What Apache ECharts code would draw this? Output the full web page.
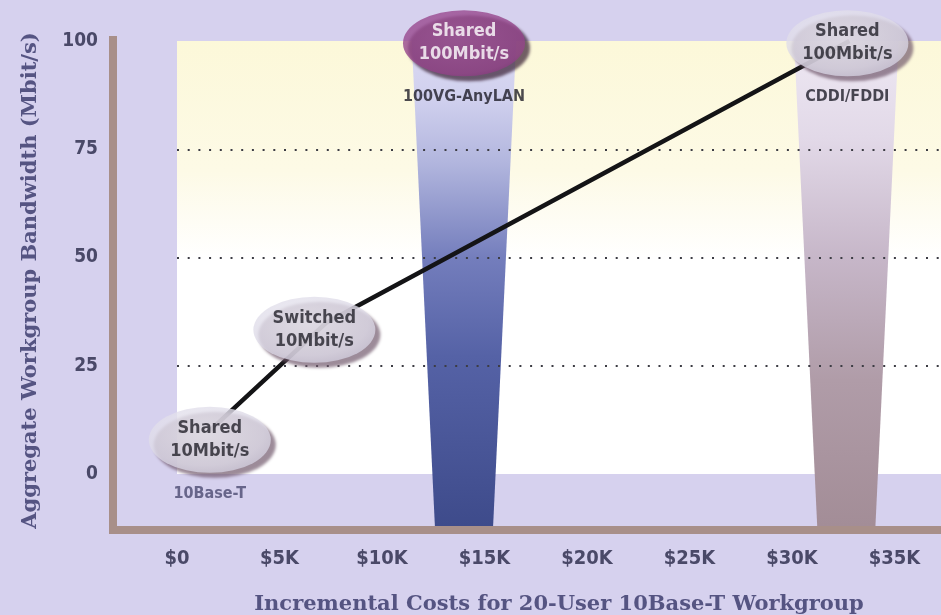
<!DOCTYPE html>
<html>
<head>
<meta charset="utf-8">
<script src="https://cdn.jsdelivr.net/npm/echarts@6/dist/echarts.min.js"></script>
<style>
  html, body { margin: 0; padding: 0; background: #d6d1ee; }
  #chart { width: 941px; height: 615px; }
</style>
</head>
<body>
<div id="chart"></div>
<script>
// ---- data ----
const nodeLabels = ['Shared\n10Mbit/s', 'Switched\n10Mbit/s', 'Shared\n100Mbit/s', 'Shared\n100Mbit/s'];
const techNames = ['10Base-T', '', '100VG-AnyLAN', 'CDDI/FDDI'];
const nodeCostK = [1.6, 6.7, 14.0, 32.7];
const nodeBandwidth = [7.9, 33.3, 99.5, 99.5];
const pathCostK = [1.6, 7.3, 32.8];
const pathBandwidth = [10, 35, 100];
const beamCostK = [14.0, 32.65];
const beamTop = [100, 100];
const beamBottom = [-12, -12];
const xTickValues = [0, 5, 10, 15, 20, 25, 30, 35];
const xTickLabels = ['$0', '$5K', '$10K', '$15K', '$20K', '$25K', '$30K', '$35K'];
const yTickValues = [0, 25, 50, 75, 100];
const yTickLabels = ['0', '25', '50', '75', '100'];
const xTitle = 'Incremental Costs for 20-User 10Base-T Workgroup';
const yTitle = 'Aggregate Workgroup Bandwidth (Mbit/s)';

// ---- styles ----
const condensed = "'Liberation Sans Narrow', 'DejaVu Sans Condensed', 'Roboto', sans-serif";
const serif = "'DejaVu Serif', 'Liberation Serif', serif";
const BEAM_TOP_HALF = 2.55;
const BEAM_BOTTOM_HALF = 1.42;
const beamFills = [
  new echarts.graphic.LinearGradient(0, 0, 0, 1, [
    { offset: 0, color: '#dcdaf2' },
    { offset: 0.12, color: '#d0d0ee' },
    { offset: 0.25, color: '#b2b6de' },
    { offset: 0.45, color: '#737dbc' },
    { offset: 0.65, color: '#5562a6' },
    { offset: 1, color: '#3e4b8b' }
  ]),
  new echarts.graphic.LinearGradient(0, 0, 0, 1, [
    { offset: 0, color: '#eee8f3' },
    { offset: 0.2, color: '#e2d9e8' },
    { offset: 0.45, color: '#c6b6c8' },
    { offset: 0.7, color: '#b09ca8' },
    { offset: 1, color: '#a38d97' }
  ])
];
const greyNode = {
  color: new echarts.graphic.RadialGradient(0.45, 0.4, 0.7, [
    { offset: 0, color: '#efeef5' },
    { offset: 0.7, color: '#dedbe8' },
    { offset: 1, color: '#c9c4d6' }
  ]),
  shadowColor: 'rgba(110,85,105,0.85)', shadowBlur: 3, shadowOffsetX: 5, shadowOffsetY: 5
};
const purpleNode = {
  color: new echarts.graphic.RadialGradient(0.45, 0.4, 0.7, [
    { offset: 0, color: '#a3549a' },
    { offset: 0.8, color: '#94448a' },
    { offset: 1, color: '#7f3577' }
  ]),
  shadowColor: 'rgba(60,35,55,0.9)', shadowBlur: 3, shadowOffsetX: 5, shadowOffsetY: 5
};

const nodeData = nodeCostK.map((c, i) => ({
  value: [c, nodeBandwidth[i]],
  name: nodeLabels[i],
  itemStyle: i === 2 ? purpleNode : greyNode,
  label: { color: i === 2 ? '#ffffff' : '#222129' }
}));
const techData = nodeCostK.map((c, i) => ({
  value: [c, nodeBandwidth[i]],
  name: techNames[i],
  label: { color: i === 0 ? '#4b4a70' : '#1e1d28' }
}));

const chart = echarts.init(document.getElementById('chart'), null, { renderer: 'canvas' });
chart.setOption({
  backgroundColor: '#d6d1ee',
  animation: false,
  grid: [
    {
      left: 177, right: 0, top: 41, bottom: 141,
      outerBoundsMode: 'none', containLabel: false,
      show: true, borderWidth: 0,
      backgroundColor: new echarts.graphic.LinearGradient(0, 0, 0, 1, [
        { offset: 0, color: '#fcf8d9' },
        { offset: 0.3, color: '#fdfae6' },
        { offset: 0.5, color: '#ffffff' },
        { offset: 1, color: '#ffffff' }
      ])
    },
    { left: 113, right: 0, top: 40, bottom: 85, show: false, outerBoundsMode: 'none', containLabel: false }
  ],
  xAxis: [
    {
      type: 'value', gridIndex: 0, min: 0, max: 764 / 20.5, interval: 5,
      axisLine: { show: false }, axisTick: { show: false }, splitLine: { show: false },
      axisLabel: {
        margin: 75, fontFamily: condensed, fontWeight: 'bold', fontSize: 20, color: '#4a4968',
        formatter: v => { const i = xTickValues.indexOf(Math.round(v * 1000) / 1000); return i >= 0 ? xTickLabels[i] : ''; }
      },
      name: xTitle, nameLocation: 'middle', nameGap: 120,
      nameTextStyle: { fontFamily: serif, fontWeight: 'bold', fontSize: 21, color: '#555482' }
    },
    {
      type: 'value', gridIndex: 1, min: 0, max: 1,
      axisLine: { show: true, lineStyle: { color: '#a88f89', width: 8, cap: 'square' } },
      axisTick: { show: false }, axisLabel: { show: false }, splitLine: { show: false }, z: 4
    }
  ],
  yAxis: [
    {
      type: 'value', gridIndex: 0, min: 0, max: 100, interval: 25,
      axisLine: { show: false }, axisTick: { show: false },
      splitLine: { show: true, showMinLine: false, showMaxLine: false,
        lineStyle: { color: '#3c3c44', width: 2, type: [2, 8.7] } },
      axisLabel: {
        margin: 79, fontFamily: condensed, fontWeight: 'bold', fontSize: 19, color: '#4a4968',
        formatter: v => { const i = yTickValues.indexOf(v); return i >= 0 ? yTickLabels[i] : ''; }
      },
      name: yTitle, nameLocation: 'middle', nameGap: 136,
      nameTextStyle: { fontFamily: serif, fontWeight: 'bold', fontSize: 21, color: '#555482', padding: [0, 46, 0, 0] },
      z: 3
    },
    {
      type: 'value', gridIndex: 1, min: 0, max: 1,
      axisLine: { show: true, lineStyle: { color: '#a88f89', width: 8, cap: 'square' } },
      axisTick: { show: false }, axisLabel: { show: false }, splitLine: { show: false }, z: 4
    }
  ],
  series: [
    {
      type: 'custom', xAxisIndex: 0, yAxisIndex: 0, z: 2, clip: false,
      data: beamCostK.map((c, i) => [c, beamTop[i], beamBottom[i]]),
      renderItem: (params, api) => {
        const cx = api.value(0), top = api.value(1), bot = api.value(2);
        const a = api.coord([cx - BEAM_TOP_HALF, top]);
        const b = api.coord([cx + BEAM_TOP_HALF, top]);
        const c = api.coord([cx + BEAM_BOTTOM_HALF, bot]);
        const d = api.coord([cx - BEAM_BOTTOM_HALF, bot]);
        return { type: 'polygon', shape: { points: [a, b, c, d] }, style: { fill: beamFills[params.dataIndex] } };
      }
    },
    {
      type: 'line', xAxisIndex: 0, yAxisIndex: 0, z: 5,
      data: pathCostK.map((c, i) => [c, pathBandwidth[i]]),
      symbol: 'none',
      lineStyle: { color: '#141416', width: 4.5 }
    },
    {
      type: 'scatter', xAxisIndex: 0, yAxisIndex: 0, z: 6,
      symbol: 'circle', symbolSize: [122, 66],
      data: nodeData,
      label: {
        show: true, position: 'inside', formatter: p => p.name,
        fontFamily: condensed, fontWeight: 'bold', fontSize: 18, lineHeight: 23
      }
    },
    {
      type: 'scatter', xAxisIndex: 0, yAxisIndex: 0, z: 6, silent: true,
      symbol: 'circle', symbolSize: [122, 66],
      itemStyle: { color: 'rgba(0,0,0,0)' },
      data: techData,
      label: {
        show: true, position: 'bottom', distance: 13, formatter: p => p.name,
        fontFamily: condensed, fontWeight: 'bold', fontSize: 16
      }
    }
  ]
});
</script>
</body>
</html>
